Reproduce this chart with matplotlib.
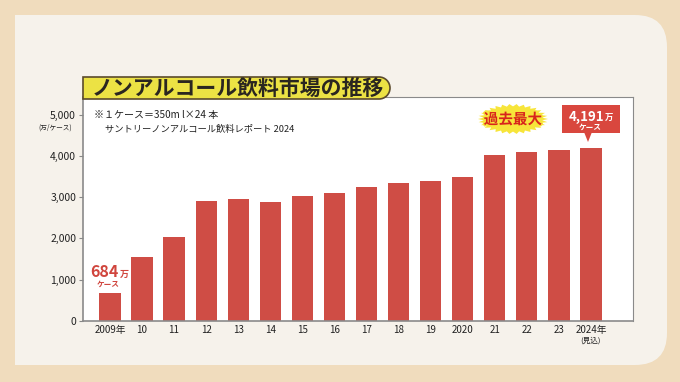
import numpy as np
import matplotlib
matplotlib.use("Agg")
import matplotlib.pyplot as plt
from matplotlib.patches import FancyBboxPatch, Rectangle, PathPatch, Polygon
from matplotlib.path import Path
import matplotlib.patheffects as pe

plt.rcParams['font.family'] = ['Noto Sans CJK JP', 'DejaVu Sans']

years = ['2009年', '10', '11', '12', '13', '14', '15', '16', '17', '18', '19',
         '2020', '21', '22', '23', '2024年']
values = [684, 1540, 2040, 2900, 2950, 2890, 3030, 3110, 3240, 3335, 3400,
          3490, 4015, 4090, 4140, 4191]
yticks = [0, 1000, 2000, 3000, 4000, 5000]

W, H = 680, 382
BAR = '#cf4d45'
TAN = '#f0dcbd'
PANEL = '#f6f2eb'

fig = plt.figure(figsize=(W / 100, H / 100), dpi=100)
fig.patch.set_facecolor(TAN)

# background panel in pixel coords
bg = fig.add_axes([0, 0, 1, 1], zorder=0)
bg.set_xlim(0, W)
bg.set_ylim(H, 0)
bg.axis('off')
bg.add_patch(FancyBboxPatch((15, 15), 652, 350, boxstyle='round,pad=0,rounding_size=32',
                            fc=PANEL, ec='none'))
bg.add_patch(Rectangle((15, 15), 60, 350, fc=PANEL, ec='none'))

# main chart
x0, x1, yb, yt = 83, 633, 321, 97
ax = fig.add_axes([x0 / W, (H - yb) / H, (x1 - x0) / W, (yb - yt) / H], zorder=1)
ax.set_facecolor('white')
x = np.arange(len(values))
ax.bar(x, values, width=0.66, color=BAR, zorder=2)
ax.set_xlim(-0.84, len(values) - 1 + 1.31)
ax.set_ylim(0, 5424)
ax.set_yticks(yticks)
ax.set_yticklabels([f'{v:,}' for v in yticks], fontsize=7.5, color='#222222')
ax.set_xticks(x)
ax.set_xticklabels(years, fontsize=7, color='#222222')
ax.tick_params(axis='x', length=0, pad=3)
ax.tick_params(axis='y', length=3, width=0.8, color='#888888', pad=2)
for s in ax.spines.values():
    s.set_color('#8a8a8a')
    s.set_linewidth(0.8)
ax.spines['left'].set_linewidth(1.2)
ax.spines['bottom'].set_linewidth(1.2)

ax.text(len(values) - 1, -470, '(見込)', ha='center', va='center', fontsize=5.5,
        color='#222222', clip_on=False)
ax.text(-1.17, 4780, '(万/ケース)', ha='right', va='top', fontsize=4.8,
        color='#222222', clip_on=False)

ax.text(-0.5, 5000, '※１ケース＝350m l×24 本', ha='left', va='center',
        fontsize=7.2, color='#222222')
ax.text(-0.15, 4640, 'サントリーノンアルコール飲料レポート 2024', ha='left', va='center',
        fontsize=6.7, color='#222222')

# 684 label
ax.text(0.28, 1060, '684', ha='right', va='baseline', fontsize=11.5, fontweight='bold',
        color='#d0453d')
ax.text(0.3, 1060, '万', ha='left', va='baseline', fontsize=6.5, fontweight='bold',
        color='#d0453d')
ax.text(-0.05, 880, 'ケース', ha='center', va='center', fontsize=5.5, fontweight='bold',
        color='#d0453d')

# title banner (pixel coords, above the chart)
bl, br, bt, bb = 83, 390, 77, 99
r = (bb - bt) / 2
arc = Path.arc(-90, 90)
verts = [(bl, bb), (bl, bt), (br - r, bt)]
codes = [Path.MOVETO, Path.LINETO, Path.LINETO]
arc_v = arc.vertices * [r, -r] + [br - r, bt + r]
verts += [tuple(v) for v in arc_v[::-1]][1:]
codes += [c if c != Path.MOVETO else Path.LINETO for c in arc.codes[1:]]
verts += [(bl, bb), (bl, bb)]
codes += [Path.LINETO, Path.CLOSEPOLY]
banner = PathPatch(Path(verts, codes), fc='#ece244', ec='#5b4a2c', lw=1.2,
                   transform=bg.transData, zorder=3)
fig.add_artist(banner)
fig.text(238 / W, 1 - 88 / H, 'ノンアルコール飲料市場の推移', ha='center', va='center',
         fontsize=15, fontweight='bold', color='#2a2620', zorder=4)

# 過去最大 burst
n = 30
ang = np.linspace(0, 2 * np.pi, 2 * n, endpoint=False)
rad = np.where(np.arange(2 * n) % 2 == 0, 1.0, 0.84)
cx, cy = 513, 119
star = Polygon(np.column_stack([cx + 35 * rad * np.cos(ang), cy + 15 * rad * np.sin(ang)]),
               closed=True, fc='#f7e53a', ec='none', transform=bg.transData, zorder=3)
fig.add_artist(star)
fig.text(cx / W, 1 - cy / H, '過去最大', ha='center', va='center', fontsize=10.5,
         fontweight='bold', color='#d8241c', zorder=4,
         path_effects=[pe.withStroke(linewidth=2, foreground='#f7e53a')])

# 4,191 box
box = Rectangle((562, 105), 58, 28, fc='#d9473e', ec='none', transform=bg.transData, zorder=3)
fig.add_artist(box)
tri = Polygon([(584, 132), (592, 132), (588, 142)], closed=True, fc='#d9473e', ec='none',
              transform=bg.transData, zorder=3)
fig.add_artist(tri)
fig.text(604 / W, 1 - 121 / H, '4,191', ha='right', va='baseline', fontsize=9.5,
         fontweight='bold', color='white', zorder=4)
fig.text(605 / W, 1 - 121 / H, '万', ha='left', va='baseline', fontsize=6,
         fontweight='bold', color='white', zorder=4)
fig.text(590 / W, 1 - 127.5 / H, 'ケース', ha='center', va='center', fontsize=5.5,
         fontweight='bold', color='white', zorder=4)

fig.savefig('out.png', dpi=100, facecolor=TAN)
